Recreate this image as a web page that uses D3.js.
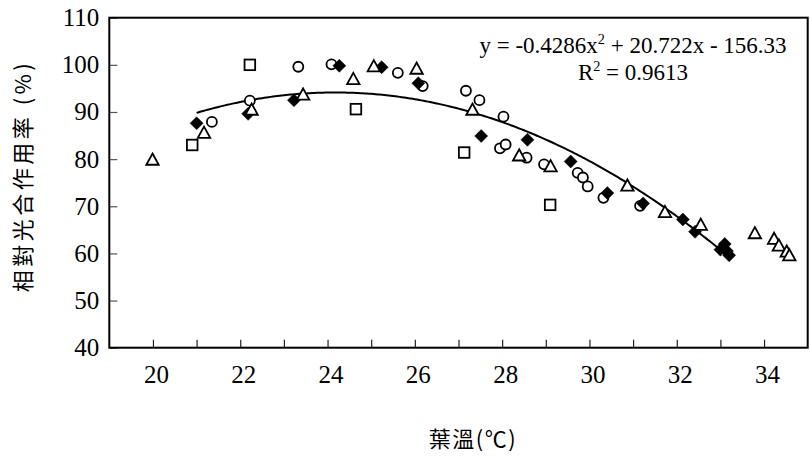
<!DOCTYPE html>
<html>
<head>
<meta charset="utf-8">
<script src="https://cdn.jsdelivr.net/npm/d3@7"></script>
<style>
  html, body { margin: 0; padding: 0; background: #fff; }
  svg { display: block; }
</style>
</head>
<body>
<svg id="chart" width="810" height="458"></svg>
<script>
// ---- data ----
const squareX   = [20.9, 22.22, 24.65, 27.13, 29.1];
const squareY   = [83.0, 100.0, 90.6, 81.4, 70.3];

const circleX   = [21.35, 22.22, 23.33, 24.09, 25.61, 26.18, 27.17, 27.48, 28.03, 27.95, 28.08, 28.56, 28.96, 29.73, 29.85, 29.96, 30.32, 31.16];
const circleY   = [87.9, 92.4, 99.6, 100.1, 98.3, 95.5, 94.5, 92.5, 89.0, 82.3, 83.1, 80.3, 78.9, 77.1, 76.1, 74.2, 71.8, 70.1];

const diamondX  = [21.0, 22.18, 23.23, 24.27, 25.24, 26.08, 27.52, 28.58, 29.57, 30.41, 31.23, 32.14, 32.42, 33.0, 33.1, 33.15, 33.2];
const diamondY  = [87.6, 89.6, 92.5, 99.8, 99.5, 96.1, 84.9, 84.1, 79.5, 72.8, 70.6, 67.2, 64.6, 60.8, 62.0, 60.5, 59.6];

const triangleX = [19.99, 21.17, 22.26, 23.44, 24.59, 25.06, 26.04, 27.32, 28.39, 29.11, 30.87, 31.73, 32.55, 33.79, 34.23, 34.34, 34.52, 34.58];
const triangleY = [80.0, 85.7, 90.6, 93.8, 97.1, 99.8, 99.3, 90.6, 80.9, 78.6, 74.5, 68.9, 66.2, 64.4, 63.2, 61.8, 60.5, 59.7];

// trend line: y = a x^2 + b x + c, drawn over the fitted range
const trendCoef  = [-0.4286, 20.722, -156.33];
const trendRange = [21.0, 33.2];

const xTicks = [20, 21, 22, 23, 24, 25, 26, 27, 28, 29, 30, 31, 32, 33, 34];
const xTickLabels = [20, 22, 24, 26, 28, 30, 32, 34];
const yTicks = [40, 50, 60, 70, 80, 90, 100, 110];

const xTitle = "葉溫(℃)";
const yTitle = "相對光合作用率 (%)";
const eqText = ["y = -0.4286x", "2", " + 20.722x - 156.33"];
const r2Text = ["R", "2", " = 0.9613"];

// ---- layout ----
const svg = d3.select("#chart");
const L = 109.3, R = 807.7, T = 17.7, B = 347.7;
const x = d3.scaleLinear().domain([19, 35]).range([L, R]);
const y = d3.scaleLinear().domain([40, 110]).range([B, T]);
const serif = "'Liberation Serif', 'Times New Roman', serif";
const cjk = "'Noto Sans CJK TC', 'Noto Sans CJK SC', sans-serif";

// axes
const xAxis = d3.axisBottom(x).tickValues(xTicks).tickSizeInner(-8).tickSizeOuter(0)
  .tickPadding(18)
  .tickFormat(d => xTickLabels.includes(d) ? String(d) : "");
const gx = svg.append("g").attr("transform", `translate(0,${B})`).call(xAxis);
gx.select(".domain").remove();
gx.selectAll(".tick line").attr("stroke", "#222").attr("stroke-width", 1.2);
gx.selectAll(".tick text").attr("font-family", serif).attr("font-size", 25)
  .attr("fill", "#000").attr("dx", 3);

const yAxis = d3.axisLeft(y).tickValues(yTicks).tickSizeInner(-8).tickSizeOuter(0)
  .tickPadding(10).tickFormat(d3.format("d"));
const gy = svg.append("g").attr("transform", `translate(${L},0)`).call(yAxis);
gy.select(".domain").remove();
gy.selectAll(".tick line").attr("stroke", "#555").attr("stroke-width", 1.2);
gy.selectAll(".tick text").attr("font-family", serif).attr("font-size", 25).attr("fill", "#000");

// frame
svg.append("rect").attr("x", L).attr("y", T).attr("width", R - L).attr("height", B - T)
  .attr("fill", "none").attr("stroke", "#000").attr("stroke-width", 2);

// trend line
const trendPts = d3.range(trendRange[0], trendRange[1] + 1e-9, 0.05).map(v => [v,
  trendCoef[0] * v * v + trendCoef[1] * v + trendCoef[2]]);
svg.append("path").datum(trendPts)
  .attr("d", d3.line().x(d => x(d[0])).y(d => y(d[1])))
  .attr("fill", "none").attr("stroke", "#000").attr("stroke-width", 2);

// markers
const zip = (xs, ys) => xs.map((v, i) => [v, ys[i]]);
const plot = svg.append("g");

plot.selectAll(".sq").data(zip(squareX, squareY)).join("rect")
  .attr("x", d => x(d[0]) - 5.3).attr("y", d => y(d[1]) - 5.3)
  .attr("width", 10.6).attr("height", 10.6)
  .attr("fill", "#fff").attr("stroke", "#000").attr("stroke-width", 1.8);

plot.selectAll(".ci").data(zip(circleX, circleY)).join("circle")
  .attr("cx", d => x(d[0])).attr("cy", d => y(d[1])).attr("r", 5)
  .attr("fill", "#fff").attr("stroke", "#000").attr("stroke-width", 1.8);

plot.selectAll(".di").data(zip(diamondX, diamondY)).join("path")
  .attr("d", d => {
    const cx = x(d[0]), cy = y(d[1]), h = 6.5;
    return `M${cx},${cy - h}L${cx + h},${cy}L${cx},${cy + h}L${cx - h},${cy}Z`;
  })
  .attr("fill", "#000").attr("stroke", "#000").attr("stroke-width", 0.5);

plot.selectAll(".tr").data(zip(triangleX, triangleY)).join("path")
  .attr("d", d => {
    const cx = x(d[0]), cy = y(d[1]);
    return `M${cx},${cy - 5.6}L${cx + 6.2},${cy + 5.6}L${cx - 6.2},${cy + 5.6}Z`;
  })
  .attr("fill", "#fff").attr("stroke", "#000").attr("stroke-width", 1.8)
  .attr("stroke-linejoin", "miter");

// equation text
function supText(parts, cx, by, fs) {
  const t = svg.append("text").attr("x", cx).attr("y", by)
    .attr("text-anchor", "middle").attr("font-family", serif)
    .attr("font-size", fs).attr("fill", "#000");
  t.append("tspan").text(parts[0]);
  t.append("tspan").attr("font-size", fs * 0.62).attr("dy", -fs * 0.38).text(parts[1]);
  t.append("tspan").attr("dy", fs * 0.38).text(parts[2]);
}
supText(eqText, 633, 53, 23);
supText(r2Text, 633, 80, 23);

// axis titles
svg.append("text").attr("x", 473).attr("y", 437)
  .attr("text-anchor", "middle").attr("dominant-baseline", "central")
  .attr("font-family", cjk).attr("font-size", 22).attr("letter-spacing", 1.5)
  .attr("fill", "#000").text(xTitle);

svg.append("text")
  .attr("transform", "translate(21,176) rotate(-90)")
  .attr("text-anchor", "middle").attr("dominant-baseline", "central")
  .attr("font-family", cjk).attr("font-size", 22).attr("letter-spacing", 3.5)
  .attr("fill", "#000").text(yTitle);
</script>
</body>
</html>
